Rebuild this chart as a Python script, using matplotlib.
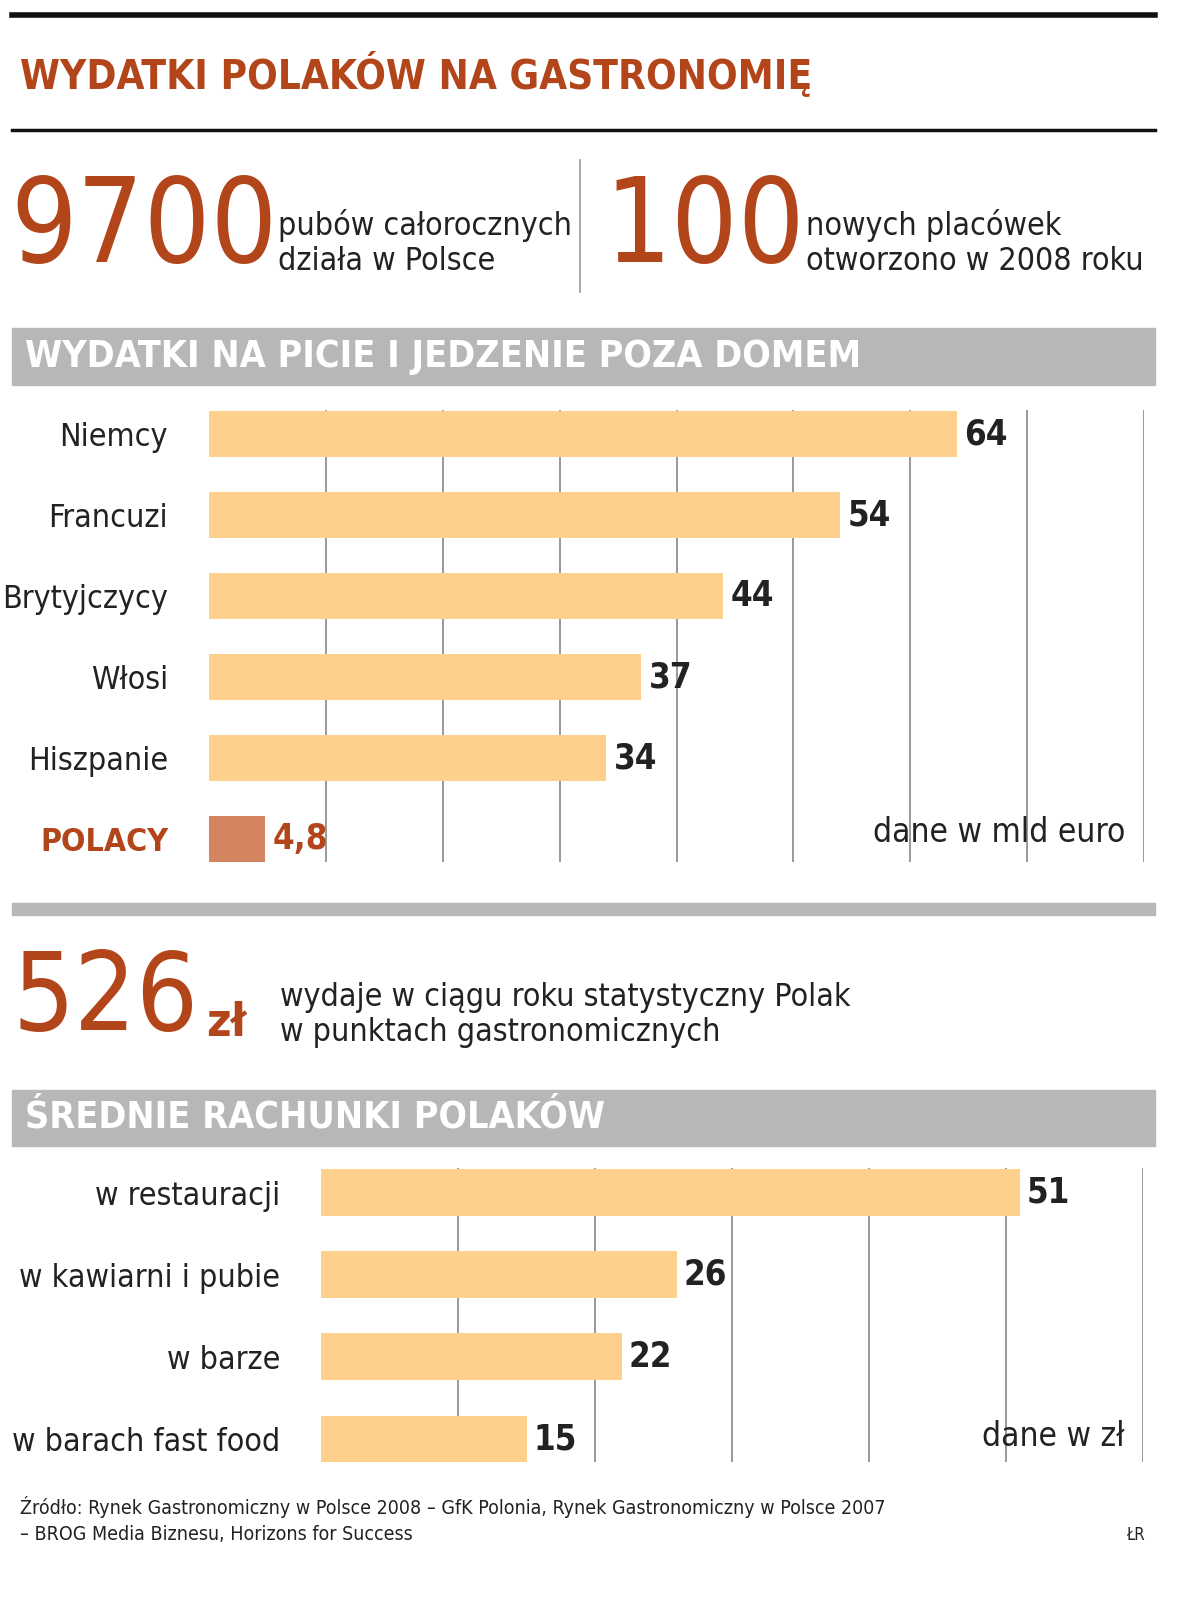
import matplotlib
matplotlib.use("Agg")
import matplotlib.pyplot as plt

plt.rcParams["font.family"] = "DejaVu Sans"
plt.rcParams["font.stretch"] = "condensed"

# data
countries = ["Niemcy", "Francuzi", "Brytyjczycy", "Włosi", "Hiszpanie", "POLACY"]
spend = [64, 54, 44, 37, 34, 4.8]
spend_labels = ["64", "54", "44", "37", "34", "4,8"]
places = ["w restauracji", "w kawiarni i pubie", "w barze", "w barach fast food"]
bills = [51, 26, 22, 15]

W, H = 1200, 1611
RED = "#b3451b"
BAR = "#fdd18c"
POL = "#d4845f"
GRAY = "#b7b7b9"
fig = plt.figure(figsize=(W / 100, H / 100), dpi=100)
fig.patch.set_facecolor("white")

def px(x, y):
    return x / W, 1 - y / H

def text(x, y, s, **kw):
    kw.setdefault("fontstretch", "condensed")
    fig.text(*px(x, y), s, **kw)

def hline(y, x0, x1, lw, c):
    fig.add_artist(plt.Line2D([x0 / W, x1 / W], [1 - y / H] * 2, lw=lw, color=c))

def band(y0, y1, c=GRAY):
    fig.add_artist(plt.Rectangle(px(12, y1), (1155 - 12) / W, (y1 - y0) / H,
                                 color=c, transform=fig.transFigure))

hline(15, 12, 1155, 4, "#111111")
text(20, 75, "WYDATKI POLAKÓW NA GASTRONOMIĘ", color=RED, fontsize=29,
     fontweight="bold", va="center")
hline(130, 12, 1155, 2.5, "#111111")

text(10, 230, "9700", color=RED, fontsize=84, va="center")
text(278, 243, "pubów całorocznych\ndziała w Polsce", fontsize=23, va="center",
     linespacing=1.15, color="#222222")
fig.add_artist(plt.Line2D([580 / W] * 2, [1 - 160 / H, 1 - 292 / H], lw=1.2, color="#999999"))
text(604, 230, "100", color=RED, fontsize=84, va="center")
text(806, 243, "nowych placówek\notworzono w 2008 roku", fontsize=23, va="center",
     linespacing=1.15, color="#222222")

band(328, 385)
text(25, 357, "WYDATKI NA PICIE I JEDZENIE POZA DOMEM", color="white", fontsize=27,
     fontweight="bold", va="center")


def barchart(left, right, top, bottom, labels, vals, vlabels, xmax, colors, lcolors, lweights):
    ax = fig.add_axes([left / W, 1 - bottom / H, (right - left) / W, (bottom - top) / H])
    n = len(vals)
    pos = list(range(n))
    ax.barh(pos, vals, height=0.57, color=colors, zorder=2)
    ax.set_xlim(0, xmax)
    ax.set_ylim(n - 1 + 0.28, -0.3)
    for g in range(10, xmax + 1, 10):
        ax.axvline(g, color="#888888", lw=1.2, zorder=1)
    for i, (v, s) in enumerate(zip(vals, vlabels)):
        ax.text(v + xmax * 0.008, i, s, fontsize=25, fontweight="bold", va="center",
                fontstretch="condensed",
                color=lcolors[i] if lcolors[i] == RED else "#222222")
    ax.set_yticks(pos)
    ax.set_yticklabels(labels, fontsize=23, fontstretch="condensed")
    for t, c, w in zip(ax.get_yticklabels(), lcolors, lweights):
        t.set_color(c)
        t.set_fontweight(w)
    ax.tick_params(left=False, bottom=False, labelbottom=False, pad=26)
    for s in ax.spines.values():
        s.set_visible(False)
    return ax

barchart(209, 1144, 410, 862, countries, spend, spend_labels, 80,
         [BAR] * 5 + [POL], ["#222222"] * 5 + [RED], ["normal"] * 5 + ["bold"])
text(1125, 832, "dane w mld euro", fontsize=24, ha="right", va="center", color="#222222")

band(903, 915)
text(12, 1000, "526", color=RED, fontsize=78, va="center")
text(206, 1024, "zł", color=RED, fontsize=34, fontweight="bold", va="center")
text(280, 1015, "wydaje w ciągu roku statystyczny Polak\nw punktach gastronomicznych",
     fontsize=23, va="center", linespacing=1.15, color="#222222")

band(1090, 1146)
text(25, 1118, "ŚREDNIE RACHUNKI POLAKÓW", color="white", fontsize=27,
     fontweight="bold", va="center")

barchart(321, 1143, 1168, 1462, places, bills, [str(b) for b in bills], 60,
         [BAR] * 4, ["#222222"] * 4, ["normal"] * 4)
text(1125, 1437, "dane w zł", fontsize=24, ha="right", va="center", color="#222222")

text(20, 1507, "Źródło: Rynek Gastronomiczny w Polsce 2008 – GfK Polonia, Rynek Gastronomiczny w Polsce 2007",
     fontsize=14, va="center", color="#222222")
text(20, 1535, "– BROG Media Biznesu, Horizons for Success", fontsize=14, va="center", color="#222222")
text(1145, 1535, "ŁR", fontsize=12, ha="right", va="center", color="#222222")

fig.savefig("out.png", dpi=100)
